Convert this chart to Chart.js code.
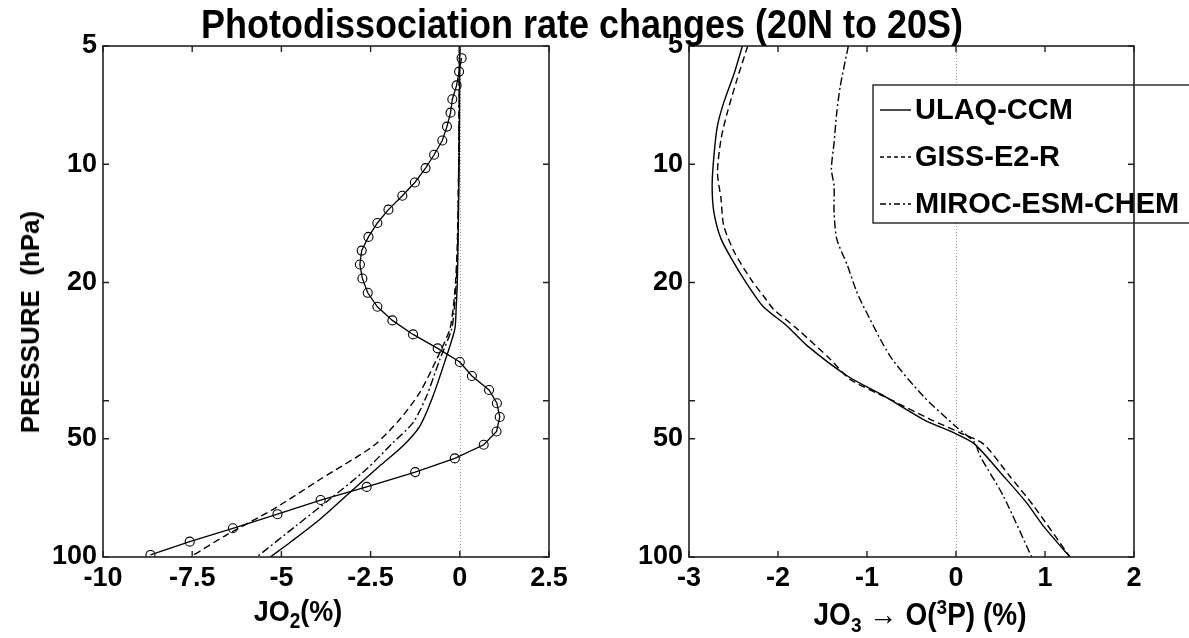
<!DOCTYPE html>
<html>
<head>
<meta charset="utf-8">
<script src="https://cdn.jsdelivr.net/npm/chart.js@4.4.1/dist/chart.umd.min.js"></script>
<style>
  body { margin: 0; background: #fff; width: 1189px; height: 638px; overflow: hidden; position: relative; font-family: "Liberation Sans", Arial, sans-serif; }
  canvas { position: absolute; left: 0; top: 0; }
  .txt { position: absolute; font-weight: bold; color: #000; white-space: nowrap; line-height: 1; }
  #title { left: 582px; top: 4px; font-size: 36px; transform: translateX(-50%) scaleY(1.12); transform-origin: top center; }
  #ytitle { left: 30px; top: 322px; font-size: 26px; transform: translate(-50%, -50%) rotate(-90deg); }
  #xt1 { left: 298px; top: 596px; font-size: 27px; transform: translateX(-50%) scaleY(1.12); transform-origin: top center; }
  #xt2 { left: 920px; top: 596px; font-size: 28px; transform: translateX(-50%) scaleY(1.1); transform-origin: top center; }
  sub, sup { font-size: 19px; }
  .arrow { font-weight: normal; padding: 0 8px; }
</style>
</head>
<body>
<canvas id="left" width="1189" height="638"></canvas>
<canvas id="right" width="1189" height="638"></canvas>
<div class="txt" id="title">Photodissociation rate changes (20N to 20S)</div>
<div class="txt" id="ytitle">PRESSURE&nbsp;&nbsp;(hPa)</div>
<div class="txt" id="xt1">JO<sub>2</sub>(%)</div>
<div class="txt" id="xt2">JO<sub>3</sub><span class="arrow">&rarr;</span>O(<sup>3</sup>P)&nbsp;(%)</div>
<script>
// pressure ticks (hPa), 40 is an unlabelled tick
const pressureTicks = [5, 10, 20, 40, 50, 100];
const leftXTicks = [-10, -7.5, -5, -2.5, 0, 2.5];
const rightXTicks = [-3, -2, -1, 0, 1, 2];
const modelNames = ['ULAQ-CCM', 'GISS-E2-R', 'MIROC-ESM-CHEM'];

// JO2 (%) - left panel
const circP = [5.37, 5.81, 6.30, 6.83, 7.39, 8.02, 8.70, 9.46, 10.23, 11.13, 12.03, 13.05, 14.11, 15.31, 16.59, 18.0, 19.54, 21.25, 23.06, 24.98, 27.12, 29.43, 31.89, 34.61, 37.56, 40.61, 44.0, 47.9, 51.8, 56.1, 60.8, 66.3, 71.6, 77.8, 84.5, 91.4, 98.8];
const circJO2 = [0.05, -0.02, -0.09, -0.21, -0.26, -0.36, -0.49, -0.72, -0.96, -1.26, -1.61, -2.00, -2.31, -2.56, -2.75, -2.80, -2.73, -2.58, -2.31, -1.89, -1.31, -0.62, 0.00, 0.34, 0.82, 1.04, 1.12, 1.03, 0.67, -0.14, -1.25, -2.61, -3.90, -5.11, -6.36, -7.57, -8.67];

const ulaqP2 = [5, 8, 12, 16, 20, 23, 26.3, 30.8, 38.9, 46.4, 52.1, 58.6, 67.2, 80, 91.7, 100];
const ulaqJO2 = [0.0, -0.01, -0.03, -0.05, -0.07, -0.10, -0.14, -0.37, -0.75, -1.12, -1.59, -2.24, -2.98, -3.91, -4.75, -5.31];
const gissP2 = [5, 10, 16, 20, 23, 26.3, 31.4, 38.1, 44.6, 52.1, 63.4, 75.5, 88.3, 100];
const gissJO2 = [-0.01, -0.03, -0.07, -0.12, -0.18, -0.28, -0.65, -1.12, -1.68, -2.42, -3.91, -5.22, -6.58, -7.55];
const mirocP2 = [5, 10, 16, 20, 23, 26.3, 31.4, 38.9, 45.5, 51.1, 59.7, 71.2, 83.3, 100];
const mirocJO2 = [-0.01, -0.03, -0.06, -0.10, -0.15, -0.23, -0.56, -0.93, -1.31, -1.87, -2.61, -3.64, -4.59, -5.69];

// JO3 -> O(3P) (%) - right panel
const ulaqP3 = [5, 5.85, 6.97, 7.98, 9.52, 11.35, 13.26, 15.49, 17.76, 20, 23, 25.8, 29, 34.6, 38.9, 44.6, 48.7, 51.6, 62.1, 72.6, 83.3, 100];
const ulaqJO3 = [-2.40, -2.49, -2.61, -2.68, -2.72, -2.74, -2.72, -2.64, -2.50, -2.36, -2.17, -1.90, -1.67, -1.22, -0.81, -0.37, 0.01, 0.21, 0.53, 0.79, 0.98, 1.28];
const gissP3 = [5, 6.08, 7.39, 8.63, 10.49, 12.26, 14.33, 16.75, 19.7, 22, 23.4, 26.3, 31.4, 35.3, 39.7, 44.6, 48.2, 51.6, 62.1, 74, 100];
const gissJO3 = [-2.34, -2.46, -2.57, -2.64, -2.68, -2.64, -2.61, -2.49, -2.30, -2.14, -2.05, -1.78, -1.41, -1.19, -0.74, -0.29, 0.04, 0.31, 0.60, 0.87, 1.28];
const mirocP3 = [5, 6.32, 7.39, 8.81, 10.29, 11.35, 13.26, 15.49, 18.11, 21, 23, 30.8, 38.9, 46.8, 51.1, 55.3, 69.8, 100];
const mirocJO3 = [-1.21, -1.30, -1.34, -1.37, -1.40, -1.37, -1.37, -1.34, -1.22, -1.12, -1.04, -0.74, -0.37, 0.01, 0.21, 0.27, 0.53, 0.85];

const FONT = '"Liberation Sans", Arial, sans-serif';
const dashes = [[], [7, 4], [8, 3, 2, 3]];

const toPts = (ps, vs) => ps.map((p, i) => ({ x: vs[i], y: p }));

function modelSet(i, ps, vs) {
  return {
    label: modelNames[i],
    data: toPts(ps, vs),
    borderColor: '#000',
    borderWidth: 1.4,
    borderDash: dashes[i],
    pointRadius: 0,
    tension: 0.25,
    showLine: true,
    fill: false,
  };
}

// box, inward ticks and dotted zero line, the way the original plot has them
const framePlugin = {
  id: 'frame',
  beforeDatasetsDraw(chart) {
    const { ctx, chartArea: a, scales: { x } } = chart;
    const x0 = Math.round(x.getPixelForValue(0)) + 0.5;
    ctx.save();
    ctx.strokeStyle = '#999';
    ctx.lineWidth = 1;
    ctx.setLineDash([1, 2]);
    ctx.beginPath();
    ctx.moveTo(x0, a.top);
    ctx.lineTo(x0, a.bottom);
    ctx.stroke();
    ctx.restore();
  },
  afterDraw(chart) {
    const { ctx, chartArea: a, scales: { x, y } } = chart;
    ctx.save();
    ctx.strokeStyle = '#222';
    ctx.lineWidth = 1.6;
    ctx.strokeRect(a.left, a.top, a.right - a.left, a.bottom - a.top);
    ctx.lineWidth = 1.4;
    ctx.beginPath();
    x.ticks.forEach((t) => {
      const px = x.getPixelForValue(t.value);
      ctx.moveTo(px, a.bottom); ctx.lineTo(px, a.bottom - 6);
      ctx.moveTo(px, a.top); ctx.lineTo(px, a.top + 6);
    });
    y.ticks.forEach((t) => {
      const py = y.getPixelForValue(t.value);
      ctx.moveTo(a.left, py); ctx.lineTo(a.left + 6, py);
      ctx.moveTo(a.right, py); ctx.lineTo(a.right - 6, py);
    });
    ctx.stroke();
    ctx.restore();
  },
};

const boxLegend = {
  id: 'boxLegend',
  afterDatasetsDraw(chart) {
    const ctx = chart.ctx;
    ctx.save();
    ctx.fillStyle = '#fff';
    ctx.fillRect(873, 85, 330, 138);
    ctx.strokeStyle = '#222';
    ctx.lineWidth = 1.4;
    ctx.strokeRect(873, 85, 330, 138);
    chart.data.datasets.forEach((ds, i) => {
      const yy = 110 + i * 47;
      ctx.strokeStyle = '#000';
      ctx.lineWidth = 1.4;
      ctx.setLineDash(i === 1 ? [4, 3] : i === 2 ? [6, 3, 2, 3] : []);
      ctx.beginPath();
      ctx.moveTo(880, yy);
      ctx.lineTo(911, yy);
      ctx.stroke();
      ctx.setLineDash([]);
      ctx.fillStyle = '#000';
      ctx.font = 'bold 29px ' + FONT;
      ctx.textBaseline = 'middle';
      ctx.fillText(ds.label, 915, yy + 1);
    });
    ctx.restore();
  },
};

function options(xMin, xMax, xTicks, yWidth, padLeft, padRight) {
  return {
    responsive: false,
    animation: false,
    devicePixelRatio: 1,
    layout: { padding: { left: padLeft, right: padRight, top: 46, bottom: 0 } },
    plugins: { legend: { display: false }, tooltip: { enabled: false } },
    scales: {
      x: {
        type: 'linear',
        min: xMin,
        max: xMax,
        afterBuildTicks: (s) => { s.ticks = xTicks.map((v) => ({ value: v })); },
        afterFit: (s) => { s.height = 81; },
        grid: { display: false, drawTicks: false },
        border: { display: false },
        ticks: { color: '#000', padding: 5, maxRotation: 0, font: { family: FONT, size: 27, weight: 'bold' }, callback: (v) => String(v) },
      },
      y: {
        type: 'logarithmic',
        min: 5,
        max: 100,
        reverse: true,
        afterBuildTicks: (s) => { s.ticks = pressureTicks.map((v) => ({ value: v })); },
        afterFit: (s) => { s.width = yWidth; },
        grid: { display: false, drawTicks: false },
        border: { display: false },
        ticks: { color: '#000', padding: 6, font: { family: FONT, size: 27, weight: 'bold' }, callback: (v) => (v === 40 ? '' : String(v)) },
      },
    },
  };
}

new Chart(document.getElementById('left'), {
  type: 'scatter',
  data: {
    datasets: [
      modelSet(0, ulaqP2, ulaqJO2),
      modelSet(1, gissP2, gissJO2),
      modelSet(2, mirocP2, mirocJO2),
      {
        label: 'circles',
        data: toPts(circP, circJO2),
        borderColor: '#000',
        borderWidth: 1.3,
        pointRadius: 4.5,
        pointBorderWidth: 1.1,
        pointBorderColor: '#000',
        pointBackgroundColor: 'rgba(0,0,0,0)',
        showLine: true,
        tension: 0,
      },
    ],
  },
  options: options(-10, 2.5, leftXTicks, 103, 0, 1189 - 549),
  plugins: [framePlugin],
});

new Chart(document.getElementById('right'), {
  type: 'scatter',
  data: {
    datasets: [
      modelSet(0, ulaqP3, ulaqJO3),
      modelSet(1, gissP3, gissJO3),
      modelSet(2, mirocP3, mirocJO3),
    ],
  },
  options: options(-3, 2, rightXTicks, 70, 689 - 70, 1189 - 1134),
  plugins: [framePlugin, boxLegend],
});
</script>
</body>
</html>
